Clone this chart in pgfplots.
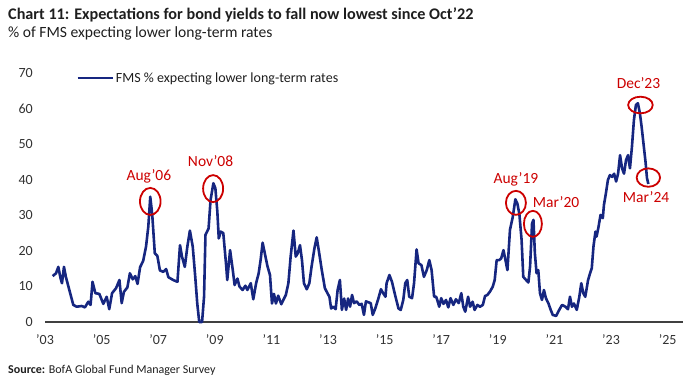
\documentclass[border=0pt]{standalone}
\usepackage{pgfplots}
\pgfplotsset{compat=1.18}
\usepackage{fontspec}
\setmainfont{Carlito}
\definecolor{navy}{RGB}{22,38,128}
\definecolor{annored}{RGB}{204,0,0}
\definecolor{axisgray}{RGB}{64,64,64}
\definecolor{txt}{RGB}{30,30,30}
\definecolor{ticktxt}{RGB}{50,50,50}
\begin{document}
\begin{tikzpicture}
\useasboundingbox (0bp,0bp) rectangle (700bp,380bp);
\node[anchor=base west, inner sep=0pt, text=txt, font=\bfseries\fontsize{16.2bp}{18bp}\selectfont] at (8bp,360bp) {Chart 11: Expectations for bond yields to fall now lowest since Oct’22};
\node[anchor=base west, inner sep=0pt, text=txt, font=\fontsize{15.6bp}{17bp}\selectfont] at (8bp,342bp) {\% of FMS expecting lower long-term rates};
\node[anchor=base west, inner sep=0pt, text=txt, font=\fontsize{12bp}{13bp}\selectfont] at (8bp,7bp) {\textbf{Source:} BofA Global Fund Manager Survey};
\begin{axis}[
  at={(45bp,58bp)}, anchor=south west, scale only axis,
  width=638bp, height=249bp,
  xmin=2003, xmax=2025.544, ymin=0, ymax=70,
  clip=false,
  axis x line*=bottom, axis y line*=left,
  x axis line style={-, draw=axisgray, line width=1.3bp},
  y axis line style={draw=none},
  major tick length=0pt,
  xtick={2003,2005,2007,2009,2011,2013,2015,2017,2019,2021,2023,2025},
  xticklabels={'03,'05,'07,'09,'11,'13,'15,'17,'19,'21,'23,'25},
  ytick={0,10,20,30,40,50,60,70},
  /pgf/number format/assume math mode=true,
  ticklabel style={font=\fontsize{14bp}{16bp}\selectfont, text=ticktxt},
  xticklabel style={anchor=center, inner sep=0pt, yshift=-18bp},
  yticklabel style={anchor=east, inner sep=0pt, xshift=-12bp},
  legend style={at={(axis cs:2004.1,68.6)}, anchor=west, draw=none, fill=none, inner sep=0pt, font=\fontsize{14bp}{16bp}\selectfont, text=txt},
  legend cell align=left,
  legend image code/.code={\draw[#1] (0bp,0bp) -- (35bp,0bp);},
]
\addplot[navy, line width=2.6bp, line join=round] table {
x y
2003.27 12.9
2003.39 13.7
2003.47 15.5
2003.55 12.3
2003.60 10.9
2003.67 15.5
2003.74 12.6
2003.86 9.0
2004.00 4.8
2004.12 4.3
2004.30 4.5
2004.41 4.1
2004.53 5.7
2004.61 4.8
2004.68 11.3
2004.78 8.1
2004.92 7.9
2005.06 5.1
2005.18 7.1
2005.27 3.6
2005.37 8.1
2005.51 9.5
2005.63 11.8
2005.71 5.3
2005.79 8.5
2005.91 9.7
2006.00 13.7
2006.10 12.0
2006.19 12.9
2006.27 10.7
2006.36 15.4
2006.47 17.2
2006.57 21.2
2006.65 26.8
2006.72 35.2
2006.79 30.1
2006.88 19.3
2006.97 18.6
2007.06 14.5
2007.18 14.1
2007.28 14.9
2007.36 12.6
2007.53 11.8
2007.68 11.3
2007.77 21.6
2007.84 18.4
2007.94 15.5
2008.03 21.2
2008.12 25.7
2008.22 21.2
2008.31 12.6
2008.38 5.2
2008.45 0
2008.55 0
2008.62 7.1
2008.67 24.5
2008.78 26.3
2008.85 34.3
2008.95 39.0
2009.02 37.6
2009.09 31.0
2009.14 23.5
2009.21 25.4
2009.30 25.0
2009.40 16.0
2009.44 11.8
2009.54 20.2
2009.63 14.9
2009.70 10.4
2009.80 12.2
2009.87 10.0
2009.98 9.0
2010.08 10.2
2010.15 9.0
2010.27 10.9
2010.36 6.4
2010.46 10.9
2010.55 13.7
2010.62 17.5
2010.69 22.3
2010.79 18.4
2010.86 15.7
2010.95 13.2
2011.02 5.2
2011.09 7.9
2011.16 5.2
2011.24 7.4
2011.35 5.0
2011.44 6.5
2011.51 7.6
2011.60 10.9
2011.68 18.4
2011.78 25.7
2011.86 18.4
2011.93 19.3
2012.01 21.6
2012.08 17.4
2012.15 10.9
2012.25 9.2
2012.34 10.9
2012.42 15.6
2012.52 20.7
2012.60 23.8
2012.69 19.3
2012.78 14.6
2012.89 9.5
2012.98 8.1
2013.05 7.1
2013.11 3.8
2013.19 4.3
2013.27 3.6
2013.34 9.0
2013.42 11.8
2013.49 3.4
2013.57 6.6
2013.64 3.4
2013.71 6.6
2013.78 4.3
2013.85 7.6
2013.92 5.3
2014.01 5.8
2014.11 4.8
2014.19 5.1
2014.27 2.0
2014.34 5.8
2014.44 5.5
2014.51 5.3
2014.58 2.0
2014.67 3.8
2014.78 6.6
2014.87 9.2
2014.95 8.1
2015.03 7.1
2015.07 10.9
2015.17 13.2
2015.26 11.3
2015.37 7.6
2015.49 3.8
2015.57 3.4
2015.66 6.2
2015.73 10.9
2015.80 11.8
2015.87 7.1
2015.97 6.7
2016.04 10.9
2016.13 20.4
2016.20 16.5
2016.30 16.0
2016.39 12.7
2016.49 14.6
2016.58 17.4
2016.66 14.6
2016.75 7.1
2016.82 7.1
2016.86 6.2
2016.93 4.3
2017.00 6.7
2017.08 5.1
2017.17 6.2
2017.25 4.1
2017.33 6.7
2017.43 4.8
2017.52 6.4
2017.62 5.3
2017.71 8.1
2017.78 4.3
2017.85 2.9
2017.95 7.1
2018.02 4.3
2018.11 5.7
2018.18 3.4
2018.28 4.8
2018.37 4.3
2018.47 4.8
2018.55 7.3
2018.63 7.6
2018.72 8.5
2018.82 9.9
2018.89 11.8
2018.96 17.4
2019.05 17.4
2019.12 17.9
2019.20 20.2
2019.27 17.4
2019.34 14.6
2019.43 25.9
2019.53 29.6
2019.62 34.5
2019.69 33.3
2019.76 30.5
2019.84 23.1
2019.90 12.7
2020.00 11.8
2020.08 11.1
2020.14 15.6
2020.21 27.7
2020.26 28.7
2020.31 19.3
2020.37 13.7
2020.43 14.6
2020.49 8.1
2020.56 6.2
2020.63 9.0
2020.70 6.7
2020.79 5.2
2020.87 3.4
2020.94 2.0
2021.06 1.7
2021.17 3.4
2021.27 4.8
2021.39 4.3
2021.48 3.6
2021.55 7.1
2021.62 4.3
2021.69 5.2
2021.79 3.4
2021.88 7.1
2021.95 10.9
2022.02 8.1
2022.09 7.1
2022.19 11.8
2022.26 13.7
2022.32 15.1
2022.38 21.2
2022.45 25.4
2022.49 24.0
2022.56 26.8
2022.63 30.1
2022.71 29.2
2022.75 32.9
2022.82 36.2
2022.89 39.9
2022.96 41.3
2023.04 40.8
2023.11 41.7
2023.18 39.5
2023.25 41.7
2023.32 46.9
2023.39 43.2
2023.46 41.7
2023.53 45.5
2023.60 46.9
2023.67 43.2
2023.74 49.3
2023.81 56.8
2023.88 61.0
2023.95 61.5
2024.02 58.7
2024.08 55.0
2024.15 50.0
2024.22 45.0
2024.27 40.5
2024.32 38.8
};
\addlegendentry{FMS \% expecting lower long-term rates}
\begin{scope}[annored, line width=1.8bp]
\draw (axis cs:2006.72,33.9) ellipse [x radius=10.3bp, y radius=13.5bp];
\draw (axis cs:2008.94,37.5) ellipse [x radius=10bp, y radius=13.5bp];
\draw (axis cs:2019.64,33.5) ellipse [x radius=10bp, y radius=12bp];
\draw (axis cs:2020.24,27.6) ellipse [x radius=9bp, y radius=13bp];
\draw (axis cs:2024.04,61.0) ellipse [x radius=12.3bp, y radius=8.3bp];
\draw (axis cs:2024.32,40.6) ellipse [x radius=11.7bp, y radius=9.2bp];
\end{scope}
\begin{scope}[every node/.style={text=annored, inner sep=0pt, font=\fontsize{15.5bp}{17bp}\selectfont}]
\node at (axis cs:2006.67,40.9) {Aug'06};
\node at (axis cs:2008.85,45.1) {Nov'08};
\node at (axis cs:2019.64,40.2) {Aug'19};
\node at (axis cs:2021.06,33.6) {Mar'20};
\node at (axis cs:2023.97,67.3) {Dec'23};
\node at (axis cs:2024.24,35.0) {Mar'24};
\end{scope}
\end{axis}
\end{tikzpicture}
\end{document}
